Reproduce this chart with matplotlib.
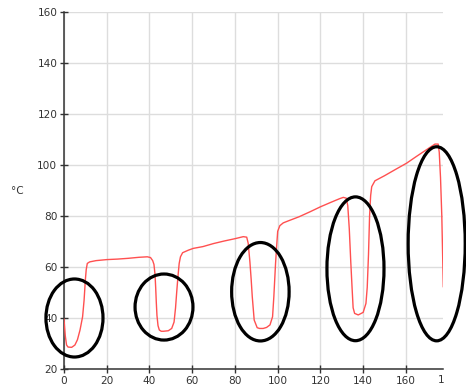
import matplotlib
matplotlib.use("Agg")
import matplotlib.pyplot as plt
from matplotlib.patches import Ellipse

# time (x) and temperature (y) readings
time = [0, 0.6, 1.2, 1.9, 3.6, 5.1, 6.3, 7.5, 8.7, 9.4, 10.0, 10.4, 10.9, 12, 15, 20, 25, 30, 35, 39,
        40.5, 41.5, 42.1, 42.6, 42.9, 43.2, 43.5, 44.0, 44.6, 45.5, 46.5, 48.8, 50.4, 51.5, 52.2, 52.7,
        53.3, 53.9, 54.5, 55.5, 58.2, 60.5, 65, 70, 75, 80, 83.9, 85.5, 86.2, 87.0, 87.6, 88.1, 89,
        90.4, 91.5, 93.2, 94.8, 96.4, 97.6, 98.2, 99, 99.5, 100, 101, 102.6, 105, 110, 115, 120, 125,
        129, 130.7, 132.1, 132.8, 133.5, 134.2, 134.8, 135.3, 136, 137.7, 140, 141.3, 141.9, 142.5,
        143, 143.5, 144, 145.5, 150, 155, 160.3, 165, 170, 173.6, 175.1, 175.6, 176.2, 176.8, 177.5]
temp = [39.5, 33, 29.4, 28.6, 28.5, 29.4, 31.5, 35.3, 40.5, 47, 55, 59, 61.4, 62.0, 62.5, 62.9, 63.1, 63.4, 63.8, 64.0,
        63.7, 62.5, 61.0, 57, 52, 46, 41, 37, 35.3, 34.8, 34.8, 35.0, 35.9, 38.4, 44, 49.7,
        56, 61.4, 64, 65.6, 66.6, 67.3, 68.0, 69.2, 70.2, 71.1, 71.9, 71.7, 69.3, 62, 55, 48.4, 39.2,
        36.2, 35.9, 35.9, 36.3, 37.3, 40.5, 48.4, 61.4, 68, 74, 76.2, 77.3, 78.1, 79.7, 81.6, 83.6, 85.4,
        86.8, 87.3, 87.0, 84, 75, 62, 52, 44, 41.8, 41.2, 42.2, 45.7, 52, 65,
        80, 88, 91.5, 93.8, 95.8, 98.2, 100.7, 103.4, 106.2, 108.2, 108.2, 105, 95, 80, 52.3]

# highlighted regions: (center x, center y, width, height)
regions_cx = [4.9, 46.8, 91.9, 136.4, 174.4]
regions_cy = [40.0, 44.3, 50.3, 59.3, 69.1]
regions_w = [26.7, 27.1, 26.9, 26.7, 26.7]
regions_h = [30.6, 25.9, 38.6, 56.4, 76.1]

xticks = [0, 20, 40, 60, 80, 100, 120, 140, 160]
yticks = [20, 40, 60, 80, 100, 120, 140, 160]

plt.rcParams['font.family'] = ['DejaVu Sans']
fig = plt.figure(figsize=(4.66, 3.90), dpi=100)
ax = fig.add_axes([64 / 466, 21 / 390, 379.3 / 466, 357 / 390])

ax.plot(time, temp, color='#ff5050', lw=1.0, zorder=3)

for cx, cy, w, h in zip(regions_cx, regions_cy, regions_w, regions_h):
    e = Ellipse((cx, cy), w, h, fill=False, edgecolor='black', lw=2.3, zorder=4, clip_on=False)
    ax.add_patch(e)

ax.set_xlim(0, 177.5)
ax.set_ylim(20, 160)
ax.set_xticks(xticks)
ax.set_yticks(yticks)
ax.grid(True, color='#dddddd', lw=1.0, zorder=0)
ax.set_axisbelow(True)

for s in ['top', 'right']:
    ax.spines[s].set_visible(False)
for s in ['left', 'bottom']:
    ax.spines[s].set_color('#333333')
    ax.spines[s].set_linewidth(1.1)

ax.tick_params(direction='inout', length=5.5, width=1.0, color='#333333',
               labelsize=7.6, labelcolor='#333333', pad=2)

# clipped "180" tick label at the right edge
ax.text(176.4, -0.018, '1', transform=ax.get_xaxis_transform(), ha='center', va='top',
        fontsize=7.6, color='#333333')

ax.set_ylabel('°C', rotation=0, fontsize=7.6, color='#333333', ha='center', va='center')
ax.yaxis.set_label_coords(-0.124, 0.5)

fig.savefig('out.png', dpi=100)
